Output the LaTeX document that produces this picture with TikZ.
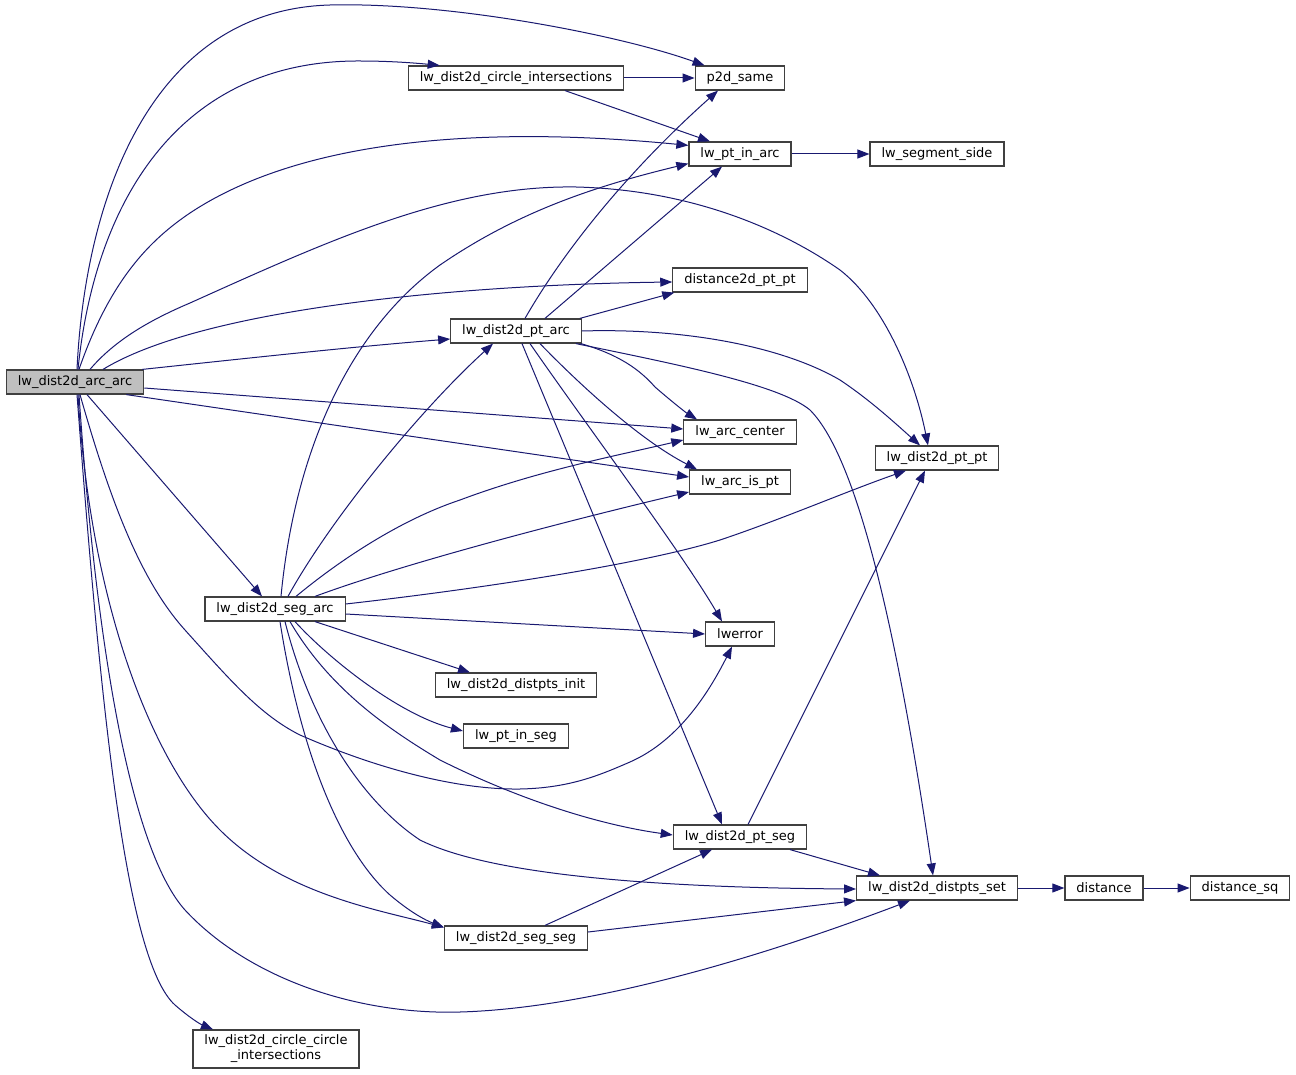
\documentclass[tikz,border=0pt]{standalone}
\usepackage{fontspec}
\setmainfont{DejaVu Sans}
\usepackage{xcolor}
\usetikzlibrary{arrows.meta}
\definecolor{callblue}{HTML}{191970}
\definecolor{boxgray}{HTML}{BFBFBF}
\definecolor{boxline}{HTML}{404040}

\begin{document}
\begin{tikzpicture}[x=1pt, y=-1pt,
  func/.style={draw=boxline, line width=1.2pt, fill=white, font=\fontsize{13}{15}\selectfont, inner xsep=11.5pt, inner ysep=0pt, minimum height=24pt},
  call/.style={draw=callblue, line width=1pt, -{Triangle[length=12pt,width=9pt]}}]
  \useasboundingbox (0,0) rectangle (1296,1075);
  \node[func, fill=boxgray] (arcarc) at (75,382) {lw\_dist2d\_arc\_arc};
  \node[func] (circint) at (516,78) {lw\_dist2d\_circle\_intersections};
  \node[func] (p2dsame) at (740,78) {p2d\_same};
  \node[func] (ptinarc) at (740,154) {lw\_pt\_in\_arc};
  \node[func] (segside) at (937,154) {lw\_segment\_side};
  \node[func] (dist2d) at (740,280) {distance2d\_pt\_pt};
  \node[func] (ptarc) at (516,331) {lw\_dist2d\_pt\_arc};
  \node[func] (arccenter) at (740,432) {lw\_arc\_center};
  \node[func] (ptpt) at (937,458) {lw\_dist2d\_pt\_pt};
  \node[func] (arcispt) at (740,482) {lw\_arc\_is\_pt};
  \node[func] (segarc) at (275,609) {lw\_dist2d\_seg\_arc};
  \node[func] (lwerror) at (740,634) {lwerror};
  \node[func] (distinit) at (516,685) {lw\_dist2d\_distpts\_init};
  \node[func] (ptinseg) at (516,736) {lw\_pt\_in\_seg};
  \node[func] (ptseg) at (740,837) {lw\_dist2d\_pt\_seg};
  \node[func] (distset) at (937,888) {lw\_dist2d\_distpts\_set};
  \node[func] (distance) at (1104,888) {distance};
  \node[func] (distsq) at (1240,888) {distance\_sq};
  \node[func] (segseg) at (516,938) {lw\_dist2d\_seg\_seg};
  \node[func, align=center, minimum height=38pt] (ccint) at (276,1049) {lw\_dist2d\_circle\_circle\\\_intersections};

  \draw[call] ([xshift=2]arcarc.north) .. controls (85,200) and (150,10) .. (330,5) .. controls (450,2) and (620,35) .. ([xshift=10]p2dsame.north west);
  \draw[call] ([xshift=3]arcarc.north) .. controls (95,200) and (180,60) .. (360,61) .. controls (390,61) and (415,63) .. ([xshift=32]circint.north west);
  \draw[call] ([xshift=4]arcarc.north) .. controls (110,280) and (150,240) .. (190,213) .. controls (300,140) and (480,125) .. ([yshift=-4]ptinarc.north west);
  \draw[call] ([xshift=15]arcarc.north) .. controls (115,340) and (150,320) .. (190,303) .. controls (330,240) and (450,185) .. (576,187) .. controls (700,190) and (790,235) .. (840,270) .. controls (885,305) and (915,380) .. ([xshift=-9]ptpt.north);
  \draw[call] ([xshift=28]arcarc.north) .. controls (200,310) and (450,285) .. ([yshift=-2]dist2d.west);
  \draw[call] ([xshift=-2]arcarc.north east) .. controls (250,358) and (350,347) .. ([yshift=-8]ptarc.west);
  \draw[call] ([yshift=-6]arcarc.east) -- ([yshift=3]arccenter.west);
  \draw[call] ([xshift=-18]arcarc.south east) -- ([yshift=5]arcispt.west);
  \draw[call] ([xshift=12]arcarc.south) -- ([xshift=-13]segarc.north);
  \draw[call] ([xshift=5]arcarc.south) .. controls (110,500) and (140,580) .. (185,630) .. controls (230,680) and (260,715) .. (300,735) .. controls (380,770) and (460,790) .. (520,789) .. controls (570,788) and (600,775) .. (630,762) .. controls (680,740) and (710,690) .. ([xshift=-8]lwerror.south);
  \draw[call] ([xshift=3]arcarc.south) .. controls (90,600) and (150,760) .. (220,830) .. controls (285,895) and (380,910) .. ([yshift=-2]segseg.north west);
  \draw[call] ([xshift=4]arcarc.south) .. controls (100,700) and (140,860) .. (185,910) .. controls (250,980) and (360,1015) .. (460,1012) .. controls (600,1008) and (780,950) .. ([xshift=-27]distset.south);
  \draw[call] ([xshift=2]arcarc.south) .. controls (100,700) and (125,960) .. (175,1005) .. controls (190,1018) and (200,1024) .. ([xshift=-63]ccint.north);

  \draw[call] (circint.east) -- (p2dsame.west);
  \draw[call] ([xshift=49]circint.south) -- ([xshift=-30]ptinarc.north);
  \draw[call] (ptinarc.east) -- (segside.west);

  \draw[call] ([xshift=9]ptarc.north) .. controls (570,240) and (640,160) .. ([xshift=-22]p2dsame.south);
  \draw[call] ([xshift=29]ptarc.north) -- ([xshift=-18]ptinarc.south);
  \draw[call] ([xshift=-2]ptarc.north east) -- ([xshift=2]dist2d.south west);
  \draw[call] (ptarc.east) .. controls (680,328) and (780,345) .. (840,380) .. controls (870,400) and (895,423) .. ([xshift=-17]ptpt.north);
  \draw[call] ([xshift=-1]ptarc.south east) .. controls (620,355) and (640,370) .. (655,387) .. controls (670,400) and (685,412) .. ([xshift=-43]arccenter.north);
  \draw[call] ([xshift=24]ptarc.south) .. controls (580,385) and (640,440) .. ([xshift=-43]arcispt.north);
  \draw[call] ([xshift=14]ptarc.south) .. controls (590,430) and (680,550) .. ([xshift=-18]lwerror.north);
  \draw[call] ([xshift=6]ptarc.south) -- ([xshift=-18]ptseg.north);
  \draw[call] ([xshift=-6]ptarc.south east) .. controls (680,365) and (780,385) .. (810,410) .. controls (860,460) and (900,650) .. ([xshift=-4]distset.north);

  \draw[call] ([xshift=6]segarc.north) .. controls (295,450) and (350,330) .. (440,265) .. controls (520,210) and (600,185) .. ([yshift=3]ptinarc.south west);
  \draw[call] ([xshift=13]segarc.north) .. controls (330,520) and (420,410) .. ([xshift=-23]ptarc.south);
  \draw[call] ([xshift=21]segarc.north) .. controls (340,560) and (400,520) .. (460,500) .. controls (540,470) and (620,455) .. ([yshift=-8]arccenter.west);
  \draw[call] ([xshift=40]segarc.north) .. controls (400,565) and (550,525) .. ([yshift=-10]arcispt.west);
  \draw[call] ([yshift=5]segarc.east) .. controls (470,590) and (640,565) .. (720,540) .. controls (780,520) and (850,490) .. ([xshift=-31]ptpt.south);
  \draw[call] ([yshift=-5]segarc.east) -- (lwerror.west);
  \draw[call] ([xshift=40]segarc.south) -- ([xshift=-46]distinit.north);
  \draw[call] ([xshift=20]segarc.south) .. controls (330,660) and (400,715) .. ([yshift=5]ptinseg.west);
  \draw[call] ([xshift=15]segarc.south) .. controls (330,690) and (390,730) .. (440,760) .. controls (520,800) and (600,825) .. ([yshift=2]ptseg.west);
  \draw[call] ([xshift=10]segarc.south) .. controls (310,720) and (360,800) .. (420,840) .. controls (500,880) and (700,888) .. ([yshift=-1]distset.west);
  \draw[call] ([xshift=5]segarc.south) .. controls (300,750) and (340,850) .. (390,895) .. controls (410,912) and (425,920) .. ([yshift=-2]segseg.north west);

  \draw[call] ([xshift=8]ptseg.north) -- ([xshift=-12]ptpt.south);
  \draw[call] ([xshift=50]ptseg.south) -- ([xshift=-57]distset.north);
  \draw[call] ([xshift=29]segseg.north) -- ([xshift=-28]ptseg.south);
  \draw[call] ([yshift=6]segseg.east) -- (distset.south west);
  \draw[call] (distset.east) -- (distance.west);
  \draw[call] (distance.east) -- (distsq.west);
\end{tikzpicture}
\end{document}
